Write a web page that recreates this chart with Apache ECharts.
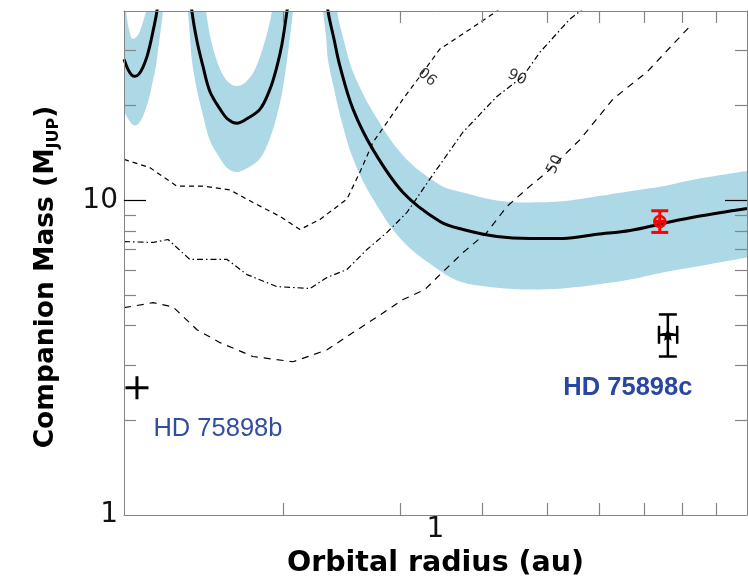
<!DOCTYPE html>
<html>
<head>
<meta charset="utf-8">
<script src="https://cdn.jsdelivr.net/npm/echarts@6/dist/echarts.min.js"></script>
<style>
  html, body { margin: 0; padding: 0; background: #fff; }
  #chart { width: 748px; height: 582px; }
</style>
</head>
<body>
<div id="chart"></div>
<script>
// Sensitivity curve: orbital radius (au) vs companion mass (M_Jup).
// Values far above the frame mark the asymptotes between the branches.
const curveRadius = [1.153, 1.169, 1.185, 1.198, 1.214, 1.231, 1.249, 1.262, 1.275, 1.288, 1.293, 1.306, 1.320, 1.376,
  1.439, 1.449, 1.459, 1.485, 1.516, 1.553, 1.609, 1.654, 1.706, 1.760, 1.848, 1.913, 1.960, 1.994, 2.029, 2.051, 2.072, 2.198,
  2.299, 2.323, 2.339, 2.388, 2.438, 2.551, 2.734, 3.034, 3.449, 3.736, 4.202, 4.712, 5.284, 5.944, 6.667, 7.470, 8.408, 10];
const curveMass = [28.1, 26.1, 25.0, 24.8, 25.2, 26.5, 28.7, 31.2, 34.5, 38.3, 40.3, 47.7, 57.3, 190,
  57.3, 47.7, 40.0, 32.1, 26.7, 22.2, 19.5, 18.1, 17.6, 18.1, 19.5, 22.6, 26.7, 31.4, 40.0, 47.7, 57.3, 190,
  57.3, 47.7, 40.0, 32.6, 26.7, 19.5, 14.5, 10.6, 8.57, 8.08, 7.68, 7.57, 7.57, 7.80, 8.02, 8.45, 8.89, 9.43];

// Upper edge of the uncertainty band
const upperRadius = [1.153, 1.161, 1.173, 1.189, 1.210, 1.227, 1.240, 1.249, 1.257, 1.270, 1.329, 1.500,
  1.516, 1.532, 1.564, 1.609, 1.654, 1.706, 1.760, 1.816, 1.874, 1.926, 1.953, 1.981, 2.356,
  2.388, 2.413, 2.481, 2.551, 2.734, 3.034, 3.449, 3.736, 4.202, 4.712, 5.284, 5.944, 6.667, 7.470, 8.408, 10];
const upperMass = [43.7, 40.0, 35.0, 32.6, 33.5, 36.1, 38.8, 40.6, 47.0, 67.8, 190, 190,
  50.6, 40.0, 31.4, 26.1, 23.8, 23.1, 23.8, 26.1, 31.4, 40.0, 50.6, 190, 190,
  50.6, 40.0, 31.2, 25.6, 19.1, 13.9, 11.2, 10.6, 10.0, 9.85, 9.93, 10.3, 10.7, 11.1, 11.7, 12.4];

// Lower edge of the uncertainty band
const lowerRadius = [1.153, 1.169, 1.185, 1.198, 1.214, 1.231, 1.249, 1.262, 1.275, 1.288, 1.297, 1.306, 1.320, 1.334, 1.343, 1.376,
  1.414, 1.429, 1.439, 1.449, 1.459, 1.485, 1.516, 1.553, 1.609, 1.654, 1.706, 1.760, 1.848, 1.913, 1.960, 1.994, 2.029, 2.051, 2.072, 2.094, 2.123,
  2.260, 2.283, 2.299, 2.323, 2.339, 2.388, 2.438, 2.551, 2.734, 3.034, 3.449, 3.736, 4.202, 4.712, 5.284, 5.944, 6.667, 7.470, 8.408, 10];
const lowerMass = [19.2, 18.2, 17.5, 17.3, 17.6, 18.5, 20.1, 21.8, 24.1, 26.7, 29.8, 33.3, 40.0, 48.7, 67.8, 190,
  67.8, 47.0, 40.0, 33.3, 27.9, 22.4, 18.7, 15.5, 13.6, 12.6, 12.3, 12.6, 13.6, 15.8, 18.7, 21.9, 27.9, 33.3, 40.0, 50.6, 190,
  190, 50.6, 40.0, 33.3, 27.9, 22.7, 18.7, 13.6, 10.1, 7.40, 5.98, 5.48, 5.28, 5.21, 5.25, 5.40, 5.60, 5.90, 6.16, 6.58];

// Detection-probability contours
const contour99Radius = [1.153, 1.262, 1.385, 1.516, 1.665, 1.803, 1.981, 2.123, 2.275, 2.498, 2.613, 2.734, 2.870, 3.034, 3.218, 3.449, 3.827, 4.202, 4.319];
const contour99Mass = [13.5, 12.7, 11.1, 11.1, 10.8, 9.85, 8.89, 8.08, 8.70, 10.1, 12.3, 15.3, 17.7, 21.0, 24.8, 30.3, 35.0, 40.0, 42.1];
const contour90Radius = [1.153, 1.275, 1.343, 1.449, 1.648, 1.766, 1.960, 2.198, 2.331, 2.498, 2.677, 2.870, 3.076, 3.331, 3.736, 4.202, 4.599, 4.878, 5.412, 5.662];
const contour90Mass = [7.40, 7.35, 7.51, 6.49, 6.49, 5.81, 5.32, 5.25, 5.69, 6.03, 6.98, 7.91, 9.16, 11.7, 16.5, 21.4, 24.8, 29.6, 37.7, 40.6];
const contour50Radius = [1.153, 1.275, 1.366, 1.485, 1.609, 1.803, 2.072, 2.331, 2.551, 2.734, 3.034, 3.274, 3.449, 3.736, 4.058, 4.350, 4.712, 4.998, 5.604, 6.284, 7.069, 8.209];
const contour50Mass = [4.56, 4.73, 4.59, 3.88, 3.53, 3.19, 3.07, 3.35, 3.80, 4.18, 4.84, 5.21, 5.81, 6.83, 7.91, 9.57, 11.1, 12.3, 15.6, 21.0, 25.6, 35.8];

// Contour labels
const contourLabelRadius = [3.297, 4.504, 5.139];
const contourLabelMass = [24.6, 24.6, 13.0];
const contourLabelText = ['06', '90', '50'];
const contourLabelAngle = [-40, -25, 65];

// Companions: b (radius, mass), c with error ranges, and the red estimate
const planetB = { name: 'HD 75898b', radius: 1.206, mass: 2.54 };
const planetC = { name: 'HD 75898c', radius: 7.60, radiusLo: 7.37, radiusHi: 7.85, mass: 3.74, massLo: 3.19, massHi: 4.34 };
const estimate = { radius: 7.39, radiusLo: 7.24, radiusHi: 7.56, mass: 8.57, massLo: 7.91, massHi: 9.27 };

// Axis ticks and labels
const radiusMin = 1.153, radiusMax = 10;
const massMin = 1, massMax = 40;
const radiusTicks = [2, 3, 4, 5, 6, 7, 8, 9];
const massMinorTicks = [2, 3, 4, 5, 6, 7, 8, 9, 20, 30];
const massMajorTicks = [10];
const massLabels = [1, 10];
const radiusLabels = [1];

const pairs = (xs, ys) => xs.map((x, i) => [x, ys[i]]);

const GREY = '#858585';
const plusPath = 'path://M10,0H13V10H23V13H13V23H10V13H0V10H10Z';
const starPath = 'path://M0,-10L2.9,-4L9.5,-3.1L4.7,1.5L5.9,8.1L0,5L-5.9,8.1L-4.7,1.5L-9.5,-3.1L-2.9,-4Z';

function errorBars(color, capX, capY, width) {
  return function (params, api) {
    const x = api.value(0), y = api.value(1);
    const xl = api.coord([api.value(2), y]);
    const xh = api.coord([api.value(3), y]);
    const yl = api.coord([x, api.value(4)]);
    const yh = api.coord([x, api.value(5)]);
    const style = { stroke: color, lineWidth: width };
    const seg = (x1, y1, x2, y2) => ({ type: 'line', shape: { x1, y1, x2, y2 }, style });
    const kids = [
      seg(yl[0], yl[1], yh[0], yh[1]),
      seg(yl[0] - capY, yl[1], yl[0] + capY, yl[1]),
      seg(yh[0] - capY, yh[1], yh[0] + capY, yh[1]),
      seg(xl[0], xl[1], xh[0], xh[1])
    ];
    if (capX > 0) {
      kids.push(seg(xl[0], xl[1] - capX, xl[0], xl[1] + capX));
      kids.push(seg(xh[0], xh[1] - capX, xh[0], xh[1] + capX));
    }
    return { type: 'group', children: kids };
  };
}

const tickAxisBase = {
  type: 'log', logBase: 10, z: 10,
  splitLine: { show: false },
  axisLabel: { show: false }
};

const SMOOTH = 0.35;

const chart = echarts.init(document.getElementById('chart'), null, { renderer: 'canvas' });
chart.setOption({
  animation: false,
  backgroundColor: '#fff',
  grid: { left: 124, right: 1, top: 11, bottom: 67, containLabel: false, outerBoundsMode: 'none' },
  xAxis: [
    Object.assign({}, tickAxisBase, {
      min: radiusMin, max: radiusMax, position: 'bottom',
      axisLine: { show: true, lineStyle: { color: GREY, width: 1 } },
      axisTick: { show: true, inside: true, length: 12, customValues: radiusTicks, lineStyle: { color: GREY, width: 1.2 } }
    }),
    Object.assign({}, tickAxisBase, {
      min: radiusMin, max: radiusMax, position: 'top',
      axisLine: { show: true, lineStyle: { color: GREY, width: 1 } },
      axisTick: { show: true, inside: true, length: 12, customValues: radiusTicks, lineStyle: { color: GREY, width: 1.2 } }
    }),
    {
      type: 'log', min: 0.1, max: 10, position: 'bottom', z: 10,
      axisLine: { show: false }, axisTick: { show: false }, splitLine: { show: false },
      axisLabel: { customValues: radiusLabels, fontSize: 28, lineHeight: 28, fontFamily: 'DejaVu Sans', color: '#111', margin: 1 },
      name: 'Orbital radius (au)', nameLocation: 'middle', nameGap: 33,
      nameTextStyle: { fontSize: 28.5, fontWeight: 'bold', fontFamily: 'DejaVu Sans', color: '#000' }
    }
  ],
  yAxis: [
    Object.assign({}, tickAxisBase, {
      min: massMin, max: massMax, position: 'left',
      axisLine: { show: true, lineStyle: { color: GREY, width: 1 } },
      axisTick: { show: true, inside: true, length: 12, customValues: massMinorTicks, lineStyle: { color: GREY, width: 1.2 } },
      axisLabel: { show: true, customValues: massLabels, fontSize: 28, fontFamily: 'DejaVu Sans', color: '#111', margin: 6 },
      name: '{a|Companion Mass (M}{b|JUP}{a|)}', nameLocation: 'middle', nameGap: 62,
      nameTextStyle: {
        padding: [0, 28, 0, 0],
        rich: {
          a: { fontSize: 26.5, fontWeight: 'bold', fontFamily: 'DejaVu Sans', color: '#000', lineHeight: 32 },
          b: { fontSize: 16, fontWeight: 'bold', fontFamily: 'DejaVu Sans', color: '#000', lineHeight: 16, verticalAlign: 'bottom' }
        }
      }
    }),
    Object.assign({}, tickAxisBase, {
      min: massMin, max: massMax, position: 'left',
      axisLine: { show: false },
      axisTick: { show: true, inside: true, length: 22, customValues: massMajorTicks, lineStyle: { color: '#000', width: 1.2 } }
    }),
    Object.assign({}, tickAxisBase, {
      min: massMin, max: massMax, position: 'right',
      axisLine: { show: true, lineStyle: { color: GREY, width: 1 } },
      axisTick: { show: true, inside: true, length: 12, customValues: massMinorTicks, lineStyle: { color: GREY, width: 1.2 } }
    }),
    Object.assign({}, tickAxisBase, {
      min: massMin, max: massMax, position: 'right',
      axisLine: { show: false },
      axisTick: { show: true, inside: true, length: 22, customValues: massMajorTicks, lineStyle: { color: '#000', width: 1.2 } }
    })
  ],
  series: [
    {
      // band: fill below the upper edge ...
      type: 'line', data: pairs(upperRadius, upperMass), showSymbol: false, silent: true, z: 1,
      smooth: SMOOTH,
      lineStyle: { width: 0 }, areaStyle: { color: '#ADD8E6', opacity: 1, origin: 'start' }
    },
    {
      // ... then clear below the lower edge
      type: 'line', data: pairs(lowerRadius, lowerMass), showSymbol: false, silent: true, z: 1,
      smooth: SMOOTH,
      lineStyle: { width: 0 }, areaStyle: { color: '#ffffff', opacity: 1, origin: 'start' }
    },
    {
      type: 'line', data: pairs(contour99Radius, contour99Mass), showSymbol: false, silent: true, z: 3,
      lineStyle: { color: '#000', width: 1.2, type: [5, 4] }
    },
    {
      type: 'line', data: pairs(contour90Radius, contour90Mass), showSymbol: false, silent: true, z: 3,
      lineStyle: { color: '#000', width: 1.2, type: [6, 3, 1.5, 3] }
    },
    {
      type: 'line', data: pairs(contour50Radius, contour50Mass), showSymbol: false, silent: true, z: 3,
      lineStyle: { color: '#000', width: 1.2, type: [7, 6] }
    },
    {
      type: 'scatter', silent: true, z: 3, symbolSize: 0,
      data: contourLabelRadius.map((r, i) => ({
        value: [r, contourLabelMass[i]],
        label: { show: true, position: 'inside', formatter: contourLabelText[i], rotate: contourLabelAngle[i],
          fontSize: 15, fontFamily: 'DejaVu Sans', color: '#000' }
      }))
    },
    {
      type: 'line', data: pairs(curveRadius, curveMass), showSymbol: false, silent: true, z: 4,
      smooth: SMOOTH,
      lineStyle: { color: '#000', width: 3 }
    },
    {
      type: 'custom', z: 5, silent: true,
      renderItem: errorBars('#000', 9, 9, 2.5),
      data: [[planetC.radius, planetC.mass, planetC.radiusLo, planetC.radiusHi, planetC.massLo, planetC.massHi]]
    },
    {
      type: 'custom', z: 5, silent: true,
      renderItem: errorBars('#ff0000', 0, 8.5, 3),
      data: [[estimate.radius, estimate.mass, estimate.radiusLo, estimate.radiusHi, estimate.massLo, estimate.massHi]]
    },
    {
      type: 'scatter', z: 6, silent: true,
      data: [[estimate.radius, estimate.mass]],
      symbol: 'circle', symbolSize: 11,
      itemStyle: { color: 'rgba(0,0,0,0)', borderColor: '#ff0000', borderWidth: 2.5, opacity: 1 }
    },
    {
      type: 'scatter', z: 6, silent: true,
      data: [[planetC.radius, planetC.mass]],
      symbol: starPath, symbolSize: 12,
      itemStyle: { color: '#000', opacity: 1 },
      label: { show: true, position: 'inside', offset: [-40, 53], formatter: planetC.name,
        fontSize: 25.5, fontWeight: 'bold', fontFamily: 'Liberation Sans', color: '#2a47a0' }
    },
    {
      type: 'scatter', z: 6, silent: true,
      data: [[planetB.radius, planetB.mass]],
      symbol: plusPath, symbolSize: 23,
      itemStyle: { color: '#000', opacity: 1 },
      label: { show: true, position: 'inside', offset: [81, 41], formatter: planetB.name,
        fontSize: 25.5, fontFamily: 'Liberation Sans', color: '#2f4ea3' }
    }
  ]
});
</script>
</body>
</html>
